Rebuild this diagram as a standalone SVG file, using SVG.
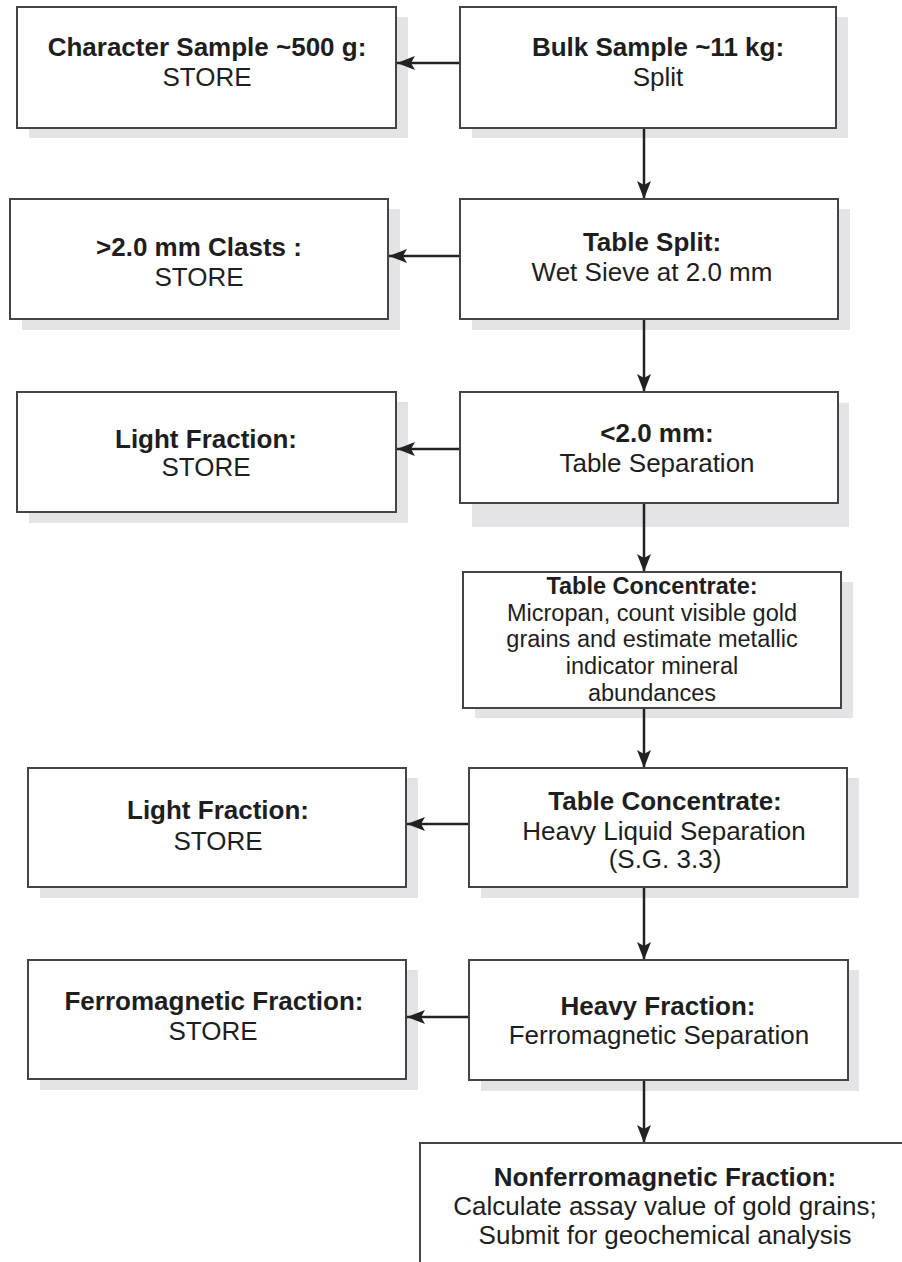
<svg xmlns="http://www.w3.org/2000/svg" width="902" height="1262" viewBox="0 0 902 1262">
<style>
.box{fill:#ffffff;stroke:#444444;stroke-width:2}
.sh{fill:#e4e4e6;stroke:none}
.t{font-family:"Liberation Sans",Arial,sans-serif;font-size:26px;fill:#1e1e1e;text-anchor:middle}
.b{font-weight:bold}
.s{font-size:23.5px}
.c{stroke:#222222;stroke-width:2.5;fill:none;marker-end:url(#ah)}
</style>
<defs>
<marker id="ah" viewBox="0 0 18 14" refX="18" refY="7" markerWidth="18" markerHeight="14" markerUnits="userSpaceOnUse" orient="auto">
<path d="M0,0 L18,7 L0,14 L4,7 Z" fill="#222222"/>
</marker>
</defs>
<rect width="902" height="1262" fill="#ffffff"/>
<g id="shadows">
<rect class="sh" x="29" y="17" width="379" height="121"/>
<rect class="sh" x="472" y="17" width="376" height="121"/>
<rect class="sh" x="22" y="209" width="378" height="121"/>
<rect class="sh" x="472" y="209" width="378" height="121"/>
<rect class="sh" x="29" y="402" width="379" height="121"/>
<rect class="sh" x="472" y="403" width="377" height="124"/>
<rect class="sh" x="475" y="582" width="378" height="136"/>
<rect class="sh" x="40" y="778" width="378" height="120"/>
<rect class="sh" x="481" y="778" width="378" height="120"/>
<rect class="sh" x="40" y="970" width="378" height="120"/>
<rect class="sh" x="481" y="970" width="378" height="121"/>
</g>
<g id="connectors">
<line class="c" x1="460" y1="63" x2="397" y2="63"/>
<line class="c" x1="644" y1="128" x2="644" y2="199"/>
<line class="c" x1="460" y1="256" x2="389" y2="256"/>
<line class="c" x1="644" y1="319" x2="644" y2="392"/>
<line class="c" x1="460" y1="449" x2="397" y2="449"/>
<line class="c" x1="644" y1="503" x2="644" y2="572"/>
<line class="c" x1="644" y1="708" x2="644" y2="768"/>
<line class="c" x1="469" y1="824" x2="407" y2="824"/>
<line class="c" x1="644" y1="887" x2="644" y2="960"/>
<line class="c" x1="469" y1="1017" x2="407" y2="1017"/>
<line class="c" x1="644" y1="1080" x2="644" y2="1143"/>
</g>
<g id="n1">
<rect class="box" x="17" y="7" width="379" height="121"/>
<text class="t b" x="207" y="56">Character Sample ~500 g:</text>
<text class="t" x="207" y="86">STORE</text>
</g>
<g id="n2">
<rect class="box" x="460" y="7" width="376" height="121"/>
<text class="t b" x="658" y="56">Bulk Sample ~11 kg:</text>
<text class="t" x="658" y="86">Split</text>
</g>
<g id="n3">
<rect class="box" x="10" y="199" width="378" height="120"/>
<text class="t b" x="199" y="256">&gt;2.0 mm Clasts :</text>
<text class="t" x="199" y="286">STORE</text>
</g>
<g id="n4">
<rect class="box" x="460" y="199" width="378" height="120"/>
<text class="t b" x="652" y="251">Table Split:</text>
<text class="t" x="652" y="281">Wet Sieve at 2.0 mm</text>
</g>
<g id="n5">
<rect class="box" x="17" y="392" width="379" height="120"/>
<text class="t b" x="206" y="448">Light Fraction:</text>
<text class="t" x="206" y="476">STORE</text>
</g>
<g id="n6">
<rect class="box" x="460" y="392" width="378" height="111"/>
<text class="t b" x="657" y="442">&lt;2.0 mm:</text>
<text class="t" x="657" y="472">Table Separation</text>
</g>
<g id="n7">
<rect class="box" x="463" y="572" width="378" height="136"/>
<text class="t s b" x="652" y="594">Table Concentrate:</text>
<text class="t s" x="652" y="621">Micropan, count visible gold</text>
<text class="t s" x="652" y="647">grains and estimate metallic</text>
<text class="t s" x="652" y="674">indicator mineral</text>
<text class="t s" x="652" y="701">abundances</text>
</g>
<g id="n8">
<rect class="box" x="28" y="768" width="378" height="119"/>
<text class="t b" x="218" y="819">Light Fraction:</text>
<text class="t" x="218" y="850">STORE</text>
</g>
<g id="n9">
<rect class="box" x="469" y="768" width="378" height="119"/>
<text class="t b" x="665" y="810">Table Concentrate:</text>
<text class="t" x="664" y="840">Heavy Liquid Separation</text>
<text class="t" x="665" y="868">(S.G. 3.3)</text>
</g>
<g id="n10">
<rect class="box" x="28" y="960" width="378" height="119"/>
<text class="t b" x="214" y="1010">Ferromagnetic Fraction:</text>
<text class="t" x="213" y="1040">STORE</text>
</g>
<g id="n11">
<rect class="box" x="469" y="960" width="379" height="120"/>
<text class="t b" x="658" y="1015">Heavy Fraction:</text>
<text class="t" x="659" y="1044">Ferromagnetic Separation</text>
</g>
<g id="n12">
<rect class="box" x="420" y="1143" width="500" height="140"/>
<text class="t b" x="665" y="1186">Nonferromagnetic Fraction:</text>
<text class="t" x="665" y="1215">Calculate assay value of gold grains;</text>
<text class="t" x="665" y="1244">Submit for geochemical analysis</text>
</g>
</svg>
